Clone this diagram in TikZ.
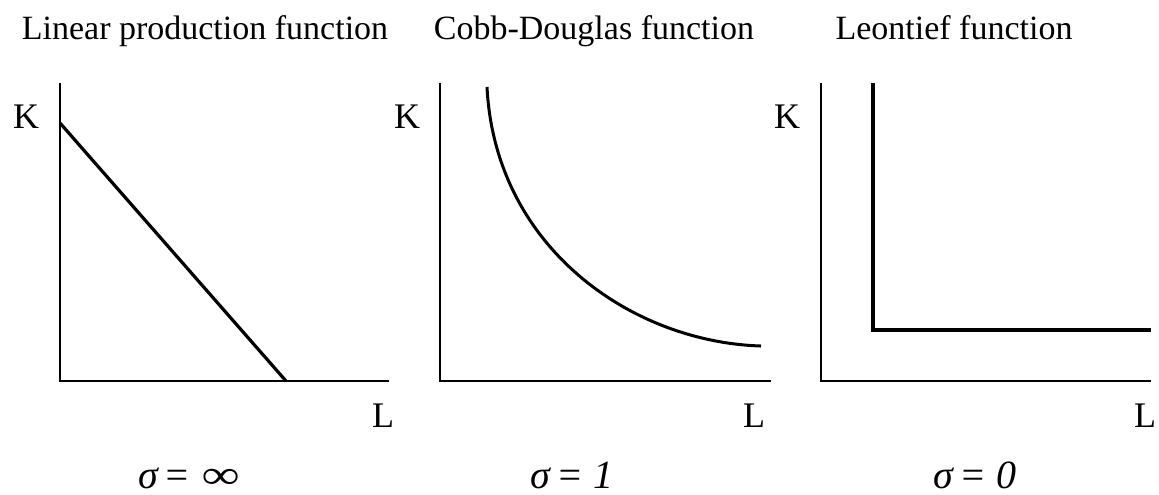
\documentclass[tikz,border=0pt]{standalone}
\usepackage{fontspec}
\setmainfont{Liberation Serif}
\tikzset{
	axis/.style    ={line width=0.65pt},
	isoquant/.style={line width=1.6pt},
	title/.style   ={anchor=base, font=\fontsize{17}{20}\selectfont},
	axlabel/.style ={anchor=base, font=\fontsize{18}{21}\selectfont},
	elast/.style   ={anchor=base, inner sep=0pt, font=\fontsize{20}{24}\selectfont\itshape},
}
\begin{document}
\begin{tikzpicture}[x=0.5pt, y=-0.5pt]
	\useasboundingbox (0,0) rectangle (1159,494);
	% titles
	\node[title] (tlin) at (205,39) {Linear production function};
	\node[title] (tcd)  at (594,39) {Cobb-Douglas function};
	\node[title] (tleo) at (954,39) {Leontief function};
	% axes
	\draw[axis] (60,83) -- (60,381) -- (389,381);
	\draw[axis] (440,83) -- (440,381) -- (771,381);
	\draw[axis] (821,83) -- (821,381) -- (1151,381);
	\node[axlabel] (k1) at (26,128) {K};  \node[axlabel] (l1) at (383,427) {L};
	\node[axlabel] (k2) at (407,128) {K}; \node[axlabel] (l2) at (754,427) {L};
	\node[axlabel] (k3) at (787,128) {K}; \node[axlabel] (l3) at (1145,427) {L};
	% isoquants
	\draw[isoquant] (60,123) -- (286,381);
	\draw[isoquant, line width=1.5pt] (487,87) .. controls (495,247) and (631,342) .. (761,346);
	\draw[isoquant, line width=2pt] (873,83) -- (873,330) -- (1151,330);
	% elasticities
	\node[elast] (s1) at (189,488) {σ\kern3pt=\kern6pt\scalebox{1.3}[1]{∞}};
	\node[elast] (s2) at (572,488) {σ\kern3pt=\kern5pt1};
	\node[elast] (s3) at (975,488) {σ\kern3pt=\kern5pt0};
\end{tikzpicture}
\end{document}
